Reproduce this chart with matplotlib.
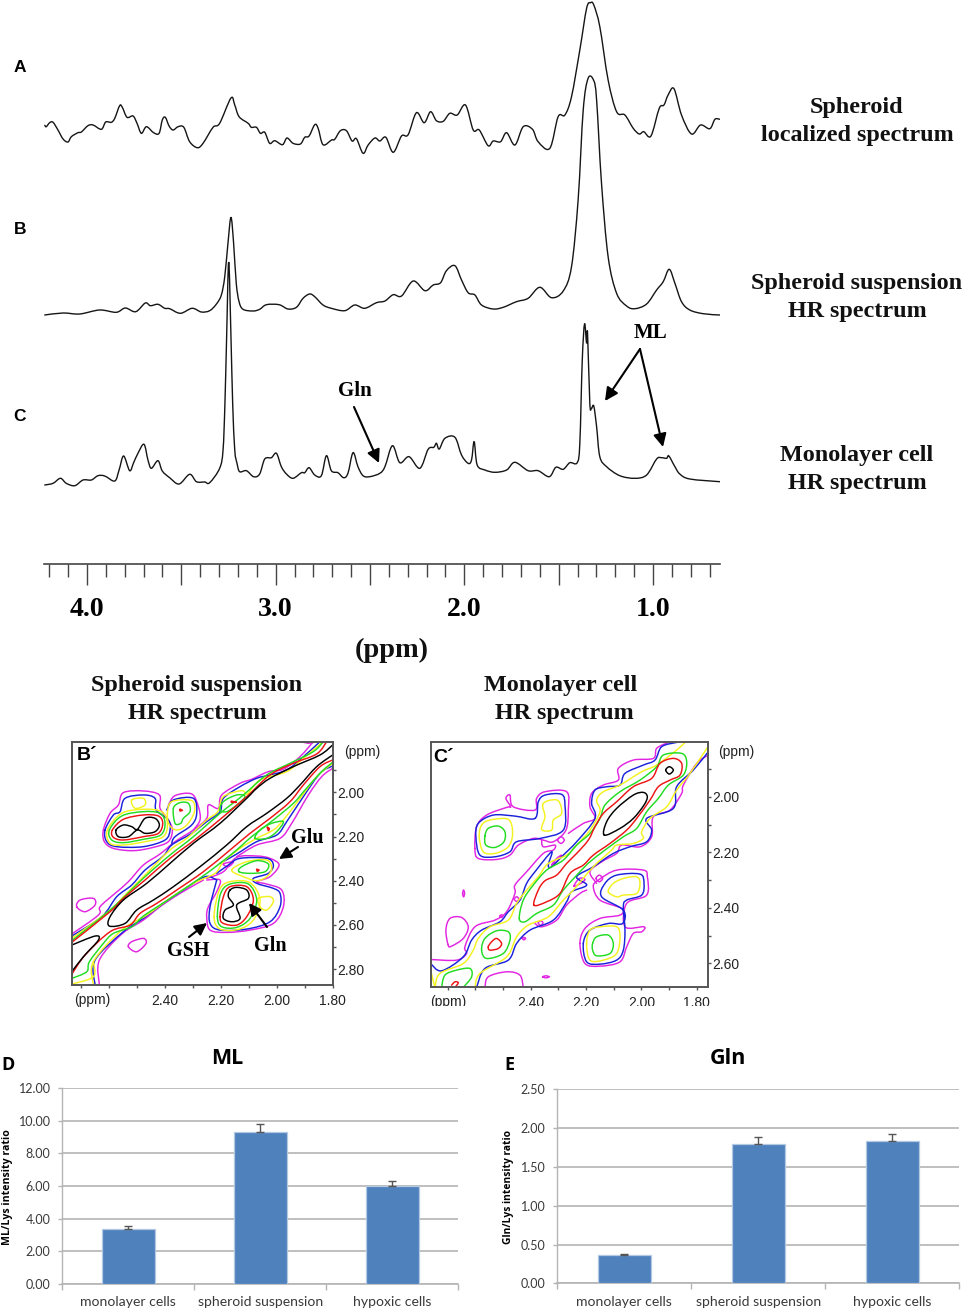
import matplotlib
matplotlib.use("Agg")
import matplotlib.pyplot as plt
from matplotlib.patches import FancyArrowPatch, PathPatch, Rectangle
from matplotlib.path import Path
from matplotlib.ticker import FixedLocator

W, H = 965, 1312
serif = "Liberation Serif"
sans = "Liberation Sans"
chart_font = "Lato"
chart_bold_font = "Open Sans"

# 1D spectra: chemical shift (ppm), height above each trace's own baseline
a_ppm = [4.224,4.216,4.198,4.180,4.154,4.127,4.101,4.083,4.048,4.030,3.995,3.968,3.924,3.901,3.871,3.853,3.827,3.813,3.788,3.756,3.735,3.712,3.685,3.647,3.618,3.601,3.585,3.565,3.544,3.517,3.487,3.456,3.415,3.385,3.332,3.297,3.237,3.217,3.194,3.146,3.129,3.102,3.081,3.058,3.032,3.005,2.964,2.940,2.908,2.869,2.846,2.823,2.793,2.775,2.749,2.704,2.687,2.657,2.625,2.595,2.572,2.537,2.510,2.474,2.448,2.416,2.377,2.333,2.298,2.254,2.213,2.179,2.148,2.112,2.077,2.038,1.994,1.953,1.921,1.874,1.847,1.808,1.776,1.732,1.688,1.639,1.609,1.547,1.503,1.467,1.432,1.388,1.352,1.331,1.314,1.282,1.238,1.193,1.149,1.105,1.073,1.049,1.011,0.967,0.942,0.920,0.889,0.849,0.796,0.748,0.699,0.672,0.646]
a_int = [34.7,33.3,37.3,37.7,30,21,18,23.3,27.3,28,34.3,35,30.7,38,37.7,41.7,54.3,52.7,42.7,44,36.7,26.7,33.3,27.3,26.7,40,42.7,34,30,33.3,32.7,18.3,12.3,16.7,32.7,36.7,62,55,43.3,36.7,32.7,32.7,26.7,27.7,16.7,19.3,15.3,22,16.7,16,22.7,24,35.3,31.7,15.3,20,20.7,29.3,29.3,19,21.3,6.7,15,22,19,22.7,7.7,24,25.3,47.3,37.3,48.3,39.3,38.7,46.7,45,55,30,30,14.3,19,18.3,27.3,15,33.3,30.7,18.3,11.7,43.3,45,63.3,110,151.7,157.3,155,133.3,80,48.3,45,31.7,26,28.3,24,51.7,55,65,71.3,45,26,35,31.3,40.7,40.7]

b_ppm = [4.224,4.127,4.039,3.933,3.845,3.797,3.742,3.691,3.664,3.624,3.588,3.562,3.505,3.443,3.394,3.350,3.314,3.288,3.270,3.253,3.237,3.223,3.209,3.194,3.173,3.120,3.085,3.049,2.982,2.935,2.890,2.855,2.820,2.793,2.749,2.705,2.634,2.581,2.528,2.466,2.421,2.377,2.333,2.271,2.209,2.165,2.126,2.095,2.050,2.015,1.980,1.944,1.909,1.847,1.794,1.724,1.662,1.600,1.538,1.476,1.432,1.397,1.370,1.344,1.314,1.299,1.273,1.238,1.193,1.140,1.096,1.034,0.981,0.946,0.914,0.884,0.849,0.805,0.734,0.646]
b_int = [1,3,2,6,3.7,8,4.3,13,10.3,11.7,7.7,7.3,2.7,7.7,4,5.3,12,21,39.3,72.7,98.7,72.7,32.7,14.3,6.7,5,6.7,11.3,11.3,7,8.7,17.7,22,19.3,11,7.7,5.3,11,7.7,13.3,15,21.3,20,35,25.3,31,33.3,45.3,50.3,36,23.3,21,11,7,8.7,14.3,17.7,28.7,18.3,25,49.3,116,206,237.7,235.3,216,132.7,59.3,22.7,10,7.3,12,26,34.3,46.7,32.7,14.3,6,2.3,1]

c_ppm = [4.224,4.180,4.141,4.110,4.065,4.021,3.977,3.942,3.906,3.853,3.830,3.806,3.774,3.753,3.730,3.698,3.677,3.659,3.624,3.601,3.562,3.512,3.456,3.420,3.376,3.350,3.297,3.279,3.269,3.260,3.249,3.237,3.228,3.217,3.205,3.191,3.155,3.117,3.085,3.058,3.023,2.996,2.970,2.943,2.908,2.864,2.846,2.823,2.793,2.758,2.731,2.705,2.670,2.640,2.617,2.590,2.564,2.537,2.502,2.448,2.421,2.381,2.342,2.293,2.236,2.192,2.162,2.148,2.133,2.103,2.050,2.015,1.980,1.962,1.948,1.932,1.891,1.838,1.776,1.732,1.662,1.609,1.550,1.515,1.476,1.441,1.402,1.388,1.375,1.363,1.352,1.347,1.335,1.326,1.314,1.299,1.282,1.246,1.176,1.096,1.034,0.981,0.955,0.928,0.916,0.884,0.858,0.805,0.646]
c_int = [1,2.7,7.7,2.7,0.3,6,6,10.3,10,5,16,30,15.3,23.3,32.7,41.7,26,17.7,25.3,15,8.3,2,11.7,4.3,4,3.3,17.7,36,82.7,149,224,149,82.7,36,22.7,14.3,15.3,9.3,12,27,28.3,32.7,19.3,12,7.7,13.3,13.3,18.3,11,10.3,30.3,15.3,13.3,8.3,12.7,33.3,19.3,10.3,9.3,12.7,19.3,40.3,23.3,29.3,17.7,36.7,38.7,42.7,37,47.7,48.7,31,22.7,26,44.3,21,16,13.7,16,23.7,15.3,15.3,9.3,18.7,16.7,23.3,23.3,42.7,126,162,142.7,152.7,82.7,77.7,80,59.3,29.3,19.3,10.3,7.7,11,27,28.3,27.7,30,19.3,12,7,4.3]

spec_major = [4.0, 3.5, 3.0, 2.5, 2.0, 1.5, 1.0]
spec_minor = [4.2,4.1,3.9,3.8,3.7,3.6,3.4,3.3,3.2,3.1,2.9,2.8,2.7,2.6,2.4,2.3,2.2,2.1,1.9,1.8,1.7,1.6,1.4,1.3,1.2,1.1,0.9,0.8,0.7]
spec_labels = ["4.0", "", "3.0", "", "2.0", "", "1.0"]

# 2D contour outlines, digitised on the plot's own point grid (converted to ppm below)
bp_magenta = [
    [(130,300),(150,250),(175,225),(190,188),(250,183),(298,195),(300,235),(325,270),(337,300),(325,335),(280,352),(220,362),(160,355),(133,335),(130,300)],
    [(35,612),(115,555),(120,530),(165,490),(205,455),(250,405),(300,372),(345,335),(400,300),(440,265),(445,225),(475,235),(485,195),(540,160),(575,148),(625,125),(670,118),(720,80),(760,35)],
    [(325,225),(345,197),(395,192),(415,230),(420,270),(400,300)],
    [(118,765),(118,690),(185,612),(250,570),(300,530),(360,490),(430,450)],
    [(440,450),(480,450),(470,485),(445,530),(440,560),(450,600),(500,607),(570,600),(640,580),(670,530),(665,480),(620,462),(590,455),(630,440),(657,405),(630,385),(590,378),(530,382),(490,425),(440,445)],
    [(530,380),(590,345),(660,325),(695,280),(745,195),(785,140),(818,115)],
    [(50,530),(60,510),(100,505),(105,525),(75,545),(50,530)],
    [(205,650),(215,635),(250,625),(258,640),(230,665),(205,650)],
    [(725,35),(745,40),(765,36)],
    [(490,402),(520,395),(505,410),(490,402)],
]
bp_blue = [
    [(135,300),(160,255),(180,245),(195,205),(250,195),(285,205),(288,240),(325,270),(330,300),(315,330),(250,350),(170,350),(140,335),(135,300)],
    [(320,240),(340,210),(400,205),(410,250),(395,285),(345,320),(335,340)],
    [(35,618),(125,560),(170,500),(215,465),(255,420),(310,378),(335,345),(395,310),(440,275),(480,245),(490,205),(540,170),(590,145),(630,135),(680,120),(725,85),(780,35)],
    [(105,765),(105,690),(190,605),(250,565),(310,520),(370,480),(435,440),(470,450)],
    [(470,450),(450,530),(450,580),(480,600),(560,597),(630,575),(660,530),(660,490),(640,475),(590,460),(580,445),(625,430),(640,405),(620,385),(540,385),(505,405),(470,430)],
    [(480,400),(530,372),(590,335),(650,315),(680,275),(730,200),(780,130),(818,108)],
]
bp_yellow = [
    [(215,210),(250,205),(255,225),(225,235),(215,210)],
    [(142,300),(185,250),(250,238),(305,245),(322,280),(310,320),(255,335),(190,345),(150,340),(142,300)],
    [(322,250),(335,215),(395,212),(403,245),(380,285),(350,300),(328,285),(322,250)],
    [(35,625),(150,540),(200,490),(260,430),(330,360),(380,325),(440,270),(473,245),(490,200),(545,182),(562,192),(600,150),(680,125),(730,85),(790,35)],
    [(100,765),(100,695),(185,600),(260,555),(330,505),(400,460),(465,430),(490,395),(540,355),(590,325),(640,300),(670,270),(720,205),(770,140),(818,100)],
    [(595,505),(630,500),(640,515),(620,540),(600,530),(595,505)],
    [(462,560),(478,480),(510,455),(570,458),(600,510),(580,570),(535,598),(480,597),(462,560)],
    [(515,420),(560,395),(620,390),(635,415),(620,440),(590,452),(550,440),(515,420)],
    [(35,762),(100,740),(100,695)],
]
bp_green = [
    [(148,300),(185,258),(250,245),(300,250),(315,280),(302,315),(250,328),(190,338),(155,330),(148,300)],
    [(340,235),(360,218),(385,220),(390,245),(370,265),(362,280),(345,280),(340,235)],
    [(480,240),(490,215),(530,195),(555,200),(530,225),(500,245),(480,240)],
    [(585,325),(600,300),(635,280),(670,275),(650,305),(620,325),(585,325)],
    [(537,425),(545,410),(590,392),(625,402),(615,425),(570,430),(537,425)],
    [(472,560),(482,490),(510,462),(565,462),(590,510),(570,565),(530,592),(485,590),(472,560)],
    [(35,632),(150,540),(255,440),(330,375),(400,320),(480,250),(550,195),(620,135),(690,100),(760,65),(790,35)],
    [(35,745),(80,725),(88,695),(130,640),(160,610),(215,590),(250,558),(300,525),(360,485),(440,430),(520,368),(575,320),(640,270),(700,220),(735,180),(785,125),(818,97)],
]
bp_red = [
    [(157,300),(190,268),(250,255),(295,258),(308,280),(295,310),(250,320),(190,330),(160,322),(157,300)],
    [(480,560),(490,500),(510,470),(560,470),(580,510),(560,560),(530,585),(490,580),(480,560)],
    [(35,637),(150,545),(190,505),(255,450),(330,385),(410,325),(490,260),(560,200),(630,135),(700,100),(770,72),(800,35)],
    [(35,733),(75,675),(150,605),(210,585),(240,550),(290,520),(350,480),(430,425),(510,360),(570,310),(630,265),(690,215),(730,165),(780,110),(818,90)],
    [(360,238),(367,241),(360,243),(360,238)],
    [(515,214),(530,217),(515,217),(515,214)],
    [(622,292),(628,296),(625,302),(622,292)],
    [(590,418),(597,420),(592,424),(590,418)],
]
bp_black = [
    [(168,300),(190,285),(215,290),(232,298),(255,265),(285,265),(298,285),(285,305),(255,310),(232,300),(205,320),(175,320),(168,300)],
    [(510,480),(530,472),(560,480),(565,505),(530,525),(540,565),(515,575),(490,565),(495,540),(520,525),(505,500),(510,480)],
    [(818,45),(780,75),(700,110),(630,145),(590,175),(560,205),(480,280),(400,340),(330,400),(260,460),(190,510),(150,560),(148,588),(195,580),(230,540),(280,510),(340,470),(420,410),(500,345),(560,290),(620,250),(680,205),(720,165),(770,110),(818,75)],
    [(35,645),(105,618),(115,630),(70,680),(35,725)],
]

cp_magenta = [
    [(32,688),(110,690),(140,670),(135,650),(165,590),(225,570),(260,545),(285,490),(285,465),(320,425),(370,370),(400,360),(405,345),(370,350),(365,328)],
    [(165,355),(170,290),(200,255),(260,232),(272,230),(258,205),(270,195),(280,230),(345,240),(350,205),(375,185),(440,185),(445,240),(438,300),(400,335),(370,330),(340,325),(295,345),(270,375),(230,388),(175,385),(165,355)],
    [(445,310),(490,280),(525,265),(510,230),(515,190),(550,165),(595,150),(595,115),(640,90),(700,85),(710,55),(745,37)],
    [(865,75),(830,100),(790,165),(785,190),(750,240),(700,260),(695,320),(660,350),(605,345),(590,370),(545,395),(510,425),(530,460)],
    [(480,640),(495,595),(540,565),(600,555),(605,535),(540,510),(520,470),(535,450),(590,420),(670,420),(682,440),(680,495),(620,520),(615,590),(672,590),(665,605),(640,610),(620,650),(600,695),(540,708),(495,700),(480,640)],
    [(195,772),(205,740),(260,725),(300,735),(310,772)],
    [(85,645),(78,600),(90,565),(125,562),(145,590),(130,625),(95,648),(85,645)],
    [(345,580),(365,590),(410,570),(440,525),(480,490),(500,480)],
    [(413,330),(423,320),(433,330),(423,340),(413,330)],
    [(528,445),(538,435),(548,445),(538,455),(528,445)],
    [(128,490),(131,480),(134,490),(131,500),(128,490)],
    [(240,558),(245,554),(249,558),(245,562),(240,558)],
    [(283,507),(290,500),(297,507),(290,514),(283,507)],
    [(307,625),(312,622),(317,625),(312,629),(307,625)],
    [(368,740),(378,737),(388,740),(378,743),(368,740)],
    [(355,578),(362,572),(369,578),(362,586),(355,578)],
    [(395,405),(410,385),(425,375),(415,390),(395,405)],
    [(462,468),(478,445),(495,448),(482,460),(462,468)],
]
cp_blue = [
    [(32,700),(65,722),(130,680),(155,630),(185,600),(240,575),(265,545),(300,510),(320,460),(345,425),(395,365),(385,405),(395,410),(430,375),(470,335),(525,265),(515,220),(525,180),(560,170),(600,165),(615,130),(670,105),(705,90),(725,50),(770,37)],
    [(345,265),(355,215),(375,195),(425,193),(435,225),(430,300),(360,325),(290,335),(270,365),(225,380),(180,375),(168,320),(175,280),(220,255),(285,258),(345,265)],
    [(170,772),(195,715),(265,690),(290,640),(330,600),(400,570),(440,515),(455,485),(500,465),(470,440),(520,410),(580,370),(630,350),(680,335),(695,300),(680,265),(760,235),(770,170),(820,120),(865,65)],
    [(490,640),(510,600),(565,580),(608,580),(610,540),(545,500),(555,460),(590,435),(660,432),(672,460),(665,495),(620,510),(610,530),(615,600),(610,660),(590,690),(540,702),(500,695),(490,640)],
]
cp_yellow = [
    [(32,720),(45,772)],
    [(45,772),(60,730),(130,700),(160,660),(175,625),(210,590),(265,570),(290,520),(320,480),(355,440),(385,400),(440,375),(470,345),(510,300),(540,245),(530,210),(550,185),(600,165),(665,125),(710,105),(770,60),(795,37)],
    [(165,772),(180,730),(260,680),(290,620),(325,585),(385,560),(430,510),(460,480),(520,410),(575,360),(590,345),(640,340),(670,325),(665,305),(690,265),(740,230),(770,180),(810,130),(865,48)],
    [(178,320),(185,285),(210,270),(265,268),(278,310),(265,350),(225,370),(190,365),(178,320)],
    [(368,225),(385,212),(415,212),(425,250),(400,270),(395,300),(365,298),(375,260),(368,225)],
    [(565,485),(580,460),(610,445),(650,440),(660,460),(650,490),(610,495),(590,500),(565,485)],
    [(500,640),(510,600),(540,590),(590,590),(600,620),(590,670),(550,690),(510,690),(500,640)],
]
cp_green = [
    [(298,565),(310,510),(340,465),(380,420),(430,390),(470,345),(510,310),(540,265),(555,225),(600,185),(660,150),(710,110),(730,75),(785,70),(800,95),(790,135),(745,165),(715,205),(680,245),(650,295),(610,320),(555,360),(510,395),(480,425),(430,480),(400,525),(350,550),(315,575),(298,565)],
    [(195,318),(205,295),(235,288),(255,305),(252,335),(225,352),(198,345),(195,318)],
    [(185,660),(195,625),(230,602),(265,605),(270,630),(250,670),(200,685),(185,660)],
    [(518,640),(530,620),(565,615),(580,640),(570,670),(530,677),(518,660),(518,640)],
    [(65,772),(75,735),(110,720),(150,715),(155,740),(130,772)],
]
cp_red = [
    [(342,525),(355,480),(375,452),(410,435),(440,400),(470,370),(505,330),(525,290),(550,250),(590,215),(640,170),(695,145),(720,100),(760,85),(785,100),(780,135),(750,150),(715,170),(690,210),(650,265),(620,300),(570,340),(520,375),(490,405),(450,430),(420,490),(380,515),(342,525)],
    [(205,650),(215,635),(230,625),(245,640),(235,655),(210,660),(205,650)],
    [(95,765),(105,755),(115,758),(105,772)],
]
cp_black = [
    [(553,315),(560,275),(590,235),(640,195),(670,187),(682,200),(672,225),(640,265),(600,295),(553,315)],
    [(737,120),(748,110),(760,120),(748,132),(737,120)],
]

# bar charts
categories = ["monolayer cells", "spheroid suspension", "hypoxic cells"]
ml_values = [3.35, 9.30, 6.00]
ml_err = [0.20, 0.50, 0.33]
ml_ticks = [0, 2, 4, 6, 8, 10, 12]
gln_values = [0.36, 1.79, 1.83]
gln_err = [0.02, 0.09, 0.10]
gln_ticks = [0, 0.5, 1.0, 1.5, 2.0, 2.5]

C_MAGENTA, C_BLUE, C_YELLOW, C_GREEN, C_RED = "#E225E2", "#1A22DC", "#F4F21E", "#22DC22", "#EE1414"
FRAME = "#555555"
BAR = "#4F81BD"
GRID = "#B4B4B4"
TXT = "#3A3A3A"


def fx(x):
    return x / W


def fy(y):
    return 1 - y / H


def make_ax(fig, left, top, right, bottom):
    return fig.add_axes([fx(left), fy(bottom), (right - left) / W, (bottom - top) / H])


def ftext(fig, x, y, s, **kw):
    kw.setdefault("ha", "center")
    kw.setdefault("va", "center")
    fig.text(fx(x), fy(y), s, **kw)


def arrow(fig, start, end, lw=1.5, scale=13):
    fig.add_artist(FancyArrowPatch(
        (fx(start[0]), fy(start[1])), (fx(end[0]), fy(end[1])),
        transform=fig.transFigure, arrowstyle="-|>,head_length=0.6,head_width=0.3", mutation_scale=scale,
        lw=lw, color="black", shrinkA=0, shrinkB=0, zorder=8))


def smooth_line(ax, xs, ys, colour, lw):
    # rounded rendering of the read points: the path passes through each of them
    n = len(xs)
    closed = n > 3 and xs[0] == xs[-1] and ys[0] == ys[-1]

    def at(seq, i):
        if closed:
            return seq[i % (n - 1)]
        return seq[max(0, min(n - 1, i))]

    verts = [(xs[0], ys[0])]
    codes = [Path.MOVETO]
    for i in range(n - 1):
        c1 = (xs[i] + (at(xs, i + 1) - at(xs, i - 1)) / 6, ys[i] + (at(ys, i + 1) - at(ys, i - 1)) / 6)
        c2 = (xs[i + 1] - (at(xs, i + 2) - at(xs, i)) / 6, ys[i + 1] - (at(ys, i + 2) - at(ys, i)) / 6)
        verts += [c1, c2, (xs[i + 1], ys[i + 1])]
        codes += [Path.CURVE4] * 3
    ax.add_patch(PathPatch(Path(verts, codes), fill=False, edgecolor=colour, lw=lw, capstyle="round"))


def contour_panel(ax, layers, to_x, to_y, xlim, ylim, xticks, xminor, yticks, yminor):
    for colour, lines in layers:
        for line in lines:
            smooth_line(ax, [to_x(p[0]) for p in line], [to_y(p[1]) for p in line], colour, 1.05)
    ax.set_xlim(*xlim)
    ax.set_ylim(*ylim)
    ax.yaxis.tick_right()
    ax.set_xticks(xticks, ["%.2f" % t for t in xticks], fontfamily=sans, fontsize=10)
    ax.set_yticks(yticks, ["%.2f" % t for t in yticks], fontfamily=sans, fontsize=10)
    ax.xaxis.set_minor_locator(FixedLocator(xminor))
    ax.yaxis.set_minor_locator(FixedLocator(yminor))
    ax.tick_params(axis="x", which="both", length=2.5, width=1.0, color=FRAME, labelcolor="#222222", pad=4)
    ax.tick_params(axis="y", which="both", length=2.0, width=1.0, color=FRAME, labelcolor="#222222", pad=1)
    for s in ax.spines.values():
        s.set_color(FRAME)
        s.set_linewidth(1.4)


def bar_panel(ax, values, err, ticks, ymax, fmt="%.2f"):
    x = list(range(len(values)))
    ax.bar(x, values, width=0.4, color=BAR, edgecolor="#B3C8E2", linewidth=0.9, zorder=3)
    ax.errorbar(x, values, yerr=[[0] * len(err), err], fmt="none", ecolor="#555555", elinewidth=1,
                capsize=2.8, capthick=1, zorder=4)
    ax.set_xlim(-0.5, 2.5)
    ax.set_ylim(0, ymax)
    ax.set_yticks(ticks, [fmt % t for t in ticks], fontfamily=chart_font, fontsize=9, color=TXT)
    ax.set_xticks(x, categories, fontfamily=chart_font, fontsize=10.1, color=TXT)
    ax.xaxis.set_minor_locator(FixedLocator([-0.5, 0.5, 1.5, 2.5]))
    ax.tick_params(axis="x", which="major", length=0, pad=9)
    ax.tick_params(axis="x", which="minor", length=4, width=1, color=GRID)
    ax.tick_params(axis="y", length=3, width=1, color=GRID, pad=5.5)
    ax.grid(axis="y", color=GRID, lw=1.2, zorder=0)
    ax.set_axisbelow(True)
    for name in ("top", "right"):
        ax.spines[name].set_visible(False)
    ax.spines["left"].set_color(GRID)
    ax.spines["bottom"].set_color(GRID)
    ax.spines["left"].set_linewidth(1.0)
    ax.spines["bottom"].set_linewidth(1.2)


fig = plt.figure(figsize=(W / 100, H / 100), dpi=100, facecolor="white")

# stacked 1D spectra
ax = make_ax(fig, 44, 0, 720, 564)
ax.patch.set_visible(False)
smooth_line(ax, a_ppm, [v + 404 for v in a_int], "#151515", 1.0)
smooth_line(ax, b_ppm, [v + 248 for v in b_int], "#151515", 1.0)
smooth_line(ax, c_ppm, [v + 78 for v in c_int], "#151515", 1.0)
ax.set_xlim(4.228, 0.645)
ax.set_ylim(0, 564)
ax.set_yticks([])
ax.set_xticks(spec_major, spec_labels, fontfamily=serif, fontweight="bold", fontsize=20)
ax.xaxis.set_minor_locator(FixedLocator(spec_minor))
ax.tick_params(axis="x", which="major", length=15, width=1.0, color="#444444", pad=9)
ax.tick_params(axis="x", which="minor", length=9.5, width=1.0, color="#444444")
for name in ("top", "left", "right"):
    ax.spines[name].set_visible(False)
ax.spines["bottom"].set_color("#444444")
ax.spines["bottom"].set_linewidth(1.2)

for label, y in (("A", 67), ("B", 229), ("C", 416)):
    ftext(fig, 20, y, label, fontfamily=sans, fontweight="bold", fontsize=12.5)
bold_serif = dict(fontfamily=serif, fontweight="bold", fontsize=17.4, color="#111111")
ftext(fig, 857, 108, "Spheroid", **bold_serif)
ftext(fig, 857, 136, "localized spectrum", **bold_serif)
ftext(fig, 857, 284, "Spheroid suspension", **bold_serif)
ftext(fig, 857, 312, "HR spectrum", **bold_serif)
ftext(fig, 857, 456, "Monolayer cell", **bold_serif)
ftext(fig, 857, 484, "HR spectrum", **bold_serif)
ftext(fig, 392, 650, "(ppm)", fontfamily=serif, fontweight="bold", fontsize=20.4, color="#111111")
ftext(fig, 197, 685, "Spheroid suspension", **bold_serif)
ftext(fig, 197, 713, "HR spectrum", **bold_serif)
ftext(fig, 561, 685, "Monolayer cell", **bold_serif)
ftext(fig, 564, 713, "HR spectrum", **bold_serif)
ftext(fig, 355, 391, "Gln", fontfamily=serif, fontweight="bold", fontsize=15)
ftext(fig, 651, 333, "ML", fontfamily=serif, fontweight="bold", fontsize=15)
arrow(fig, (354, 407), (379, 463))
arrow(fig, (640, 349), (605, 401))
arrow(fig, (640, 349), (663, 447))

# 2D panels
ax_b = make_ax(fig, 71.7, 741.7, 332.7, 985)
contour_panel(
    ax_b,
    [(C_MAGENTA, bp_magenta), (C_BLUE, bp_blue), (C_YELLOW, bp_yellow), (C_GREEN, bp_green),
     (C_RED, bp_red), ("black", bp_black)],
    lambda p: 1.80 + (818 - p) / 837.5,
    lambda p: 2.00 + (p - 187) / 662.5,
    (2.735, 1.80), (2.872, 1.771),
    [2.40, 2.20, 2.00, 1.80], [2.7, 2.6, 2.5, 2.3, 2.1, 1.9],
    [2.00, 2.20, 2.40, 2.60, 2.80], [1.9, 2.1, 2.3, 2.5, 2.7],
)
ax_c = make_ax(fig, 430.7, 742.3, 708.3, 987.3)
contour_panel(
    ax_c,
    [(C_MAGENTA, cp_magenta), (C_BLUE, cp_blue), (C_YELLOW, cp_yellow), (C_GREEN, cp_green),
     (C_RED, cp_red), ("black", cp_black)],
    lambda p: 1.80 + (830 - p) / 830.0,
    lambda p: 2.00 + (p - 200) / 833.0,
    (2.761, 1.758), (2.686, 1.804),
    [2.40, 2.20, 2.00, 1.80], [2.7, 2.6, 2.5, 2.3, 2.1, 1.9],
    [2.00, 2.20, 2.40, 2.60], [1.9, 2.1, 2.3, 2.5],
)
ftext(fig, 87, 756, "B´", fontfamily=sans, fontweight="bold", fontsize=14)
ftext(fig, 444, 757, "C´", fontfamily=sans, fontweight="bold", fontsize=14)
ftext(fig, 362, 752, "(ppm)", fontfamily=sans, fontsize=10, color="#222222")
ftext(fig, 736, 752, "(ppm)", fontfamily=sans, fontsize=10, color="#222222")
ftext(fig, 92, 1000, "(ppm)", fontfamily=sans, fontsize=10, color="#222222")
ftext(fig, 448, 1002, "(ppm)", fontfamily=sans, fontsize=10, color="#222222")
ftext(fig, 307, 838, "Glu", fontfamily=serif, fontweight="bold", fontsize=14.5)
ftext(fig, 188, 951, "GSH", fontfamily=serif, fontweight="bold", fontsize=14.5)
ftext(fig, 270, 946, "Gln", fontfamily=serif, fontweight="bold", fontsize=14.5)
arrow(fig, (298, 847), (279, 859), scale=12)
arrow(fig, (189, 937), (207, 923), scale=12)
arrow(fig, (267, 927), (249, 903), scale=12)

# the source figure is cropped straight through the labels under C'
fig.add_artist(Rectangle((fx(425), fy(1014)), 295 / W, 8 / H, transform=fig.transFigure,
                         facecolor="white", edgecolor="none", zorder=10))

# bar charts
ax_d = make_ax(fig, 62.3, 1088.3, 458.3, 1283.7)
bar_panel(ax_d, ml_values, ml_err, ml_ticks, 12)
ax_e = make_ax(fig, 557.3, 1089.3, 959.3, 1283.3)
bar_panel(ax_e, gln_values, gln_err, gln_ticks, 2.5)
chart_bold = dict(fontfamily=chart_bold_font, fontweight="bold", color="black")
ftext(fig, 227, 1058, "ML", fontsize=15.5, **chart_bold)
ftext(fig, 728, 1058, "Gln", fontsize=15.5, **chart_bold)
ftext(fig, 8, 1065, "D", fontsize=13, **chart_bold)
ftext(fig, 509, 1065, "E", fontsize=13, **chart_bold)
ftext(fig, 8, 1187, "ML/Lys intensity ratio", rotation=90, fontsize=7.6, **chart_bold)
ftext(fig, 508, 1187, "Gln/Lys intensity ratio", rotation=90, fontsize=7.4, **chart_bold)

fig.savefig("out.png", dpi=100)
